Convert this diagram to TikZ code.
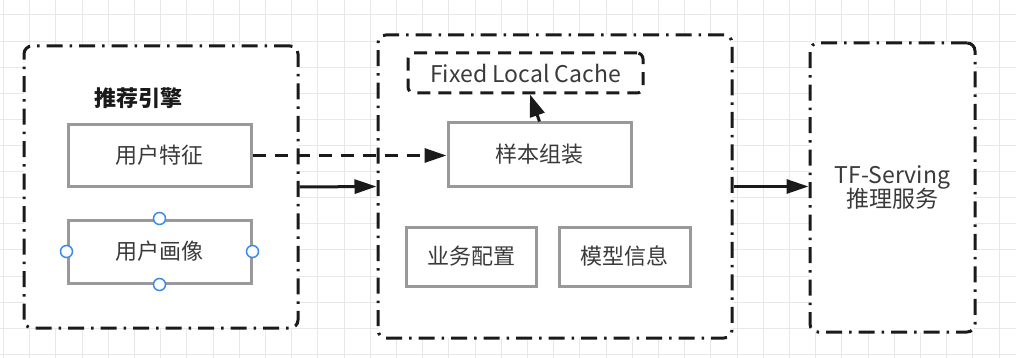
\documentclass[tikz,border=0pt]{standalone}
\usepackage{fontspec}
\newfontfamily\cjk{Noto Sans CJK SC}
\usetikzlibrary{arrows.meta,calc}
\definecolor{gridc}{HTML}{E8E8E8}
\definecolor{boxgray}{HTML}{999999}
\definecolor{txt}{HTML}{3A3A3A}
\definecolor{ink}{HTML}{1A1A1A}
\definecolor{handle}{HTML}{3B8BEB}
\tikzset{
  gridline/.style={draw=gridc, line width=1pt},
  group/.style={draw=ink, fill=white, line width=3pt, rounded corners=8pt,
    dash pattern=on 16pt off 7pt on 2.5pt off 7pt, inner sep=0pt},
  item/.style={draw=boxgray, fill=white, line width=3pt, inner sep=0pt,
    font=\cjk\fontsize{22}{26}\selectfont, text=txt},
  cachebox/.style={draw=ink, fill=white, line width=3pt, rounded corners=6pt,
    dash pattern=on 13pt off 8pt, inner sep=0pt,
    font=\cjk\fontsize{23}{27}\selectfont, text=txt},
  conn/.style={draw=ink, line width=3pt, -{Triangle[length=22pt,width=14pt]}},
  dconn/.style={conn, dash pattern=on 13pt off 9pt},
  handlept/.style={circle, draw=handle, fill=white, line width=1.5pt,
    minimum size=12pt, inner sep=0pt},
}
\begin{document}
\begin{tikzpicture}[x=1pt,y=-1pt]
\useasboundingbox (0,0) rectangle (1016,358);
\fill[white] (0,0) rectangle (1016,358);
% grid
\foreach \i in {0,...,38} \draw[gridline] (3.5+26.2*\i,0) -- (3.5+26.2*\i,358);
\foreach \j in {0,...,13} \draw[gridline] (0,15+26.1*\j) -- (1016,15+26.1*\j);
% groups
\node[group, minimum width=274pt, minimum height=282pt] (L) at (161,187) {};
\node[group, minimum width=354pt, minimum height=303pt] (M) at (555,186.5) {};
\node[group, minimum width=165pt, minimum height=289pt, align=center,
      font=\cjk\fontsize{23}{27}\selectfont, text=txt] (R) at (892.5,187.5)
      {TF-Serving\\[-3pt]推理服务};
% left content
\node[font=\cjk\bfseries\fontsize{22}{26}\selectfont, text=ink] (title) at (138,98) {推荐引擎};
\node[item, minimum width=183pt, minimum height=61pt] (uf) at (159.5,155.5) {用户特征};
\node[item, minimum width=183pt, minimum height=63pt] (up) at (159.5,251.5) {用户画像};
\node[handlept] (h1) at (up.north) {};
\node[handlept] (h2) at (up.south) {};
\node[handlept] (h3) at (up.west) {};
\node[handlept] (h4) at (up.east) {};
% middle content
\node[cachebox, minimum width=235pt, minimum height=40pt] (cache) at (525.5,73) {Fixed Local Cache};
\node[item, minimum width=183pt, minimum height=63pt] (sa) at (539.5,154.5) {样本组装};
\node[item, minimum width=130pt, minimum height=59pt] (yw) at (471,256.5) {业务配置};
\node[item, minimum width=131pt, minimum height=59pt] (mx) at (624.5,256.5) {模型信息};
% connectors
\draw[dconn] (uf.east) -- (uf.east -| sa.west);
\draw[conn] (L.east) -- (M.west);
\draw[conn] (M.east) -- (M.east -| R.west);
\draw[dconn, -{Triangle[length=22pt,width=15pt]}] (sa.north) -- ([xshift=4.5pt]cache.south);
\end{tikzpicture}
\end{document}
